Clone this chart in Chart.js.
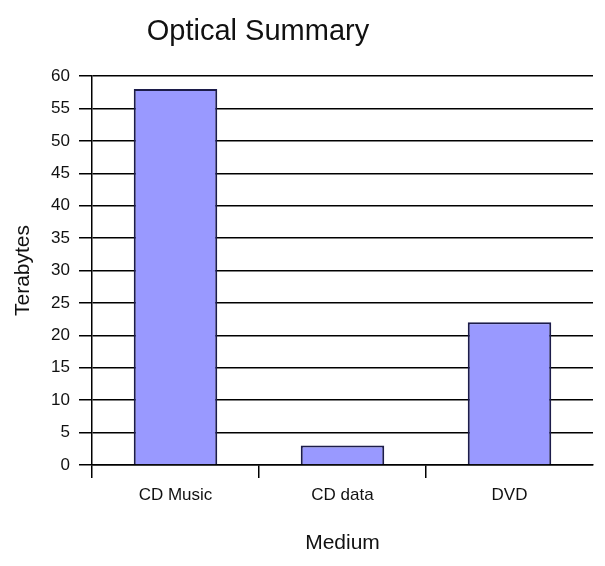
<!DOCTYPE html>
<html>
<head>
<meta charset="utf-8">
<script src="https://cdn.jsdelivr.net/npm/chart.js@4"></script>
<style>
  html, body { margin: 0; padding: 0; background: #fff; }
  #wrap { width: 605px; height: 566px; }
</style>
</head>
<body>
<div id="wrap"><canvas id="chart" width="605" height="566"></canvas></div>
<script>
const categories = ["CD Music", "CD data", "DVD"];
const terabytes = [58, 3, 22];
const chartTitle = "Optical Summary";
const yTitle = "Terabytes";
const xTitle = "Medium";

const FONT = "'Liberation Sans', Arial, sans-serif";

// title sits left of centre in the original, so draw it ourselves
const titlePlugin = {
  id: "leftTitle",
  afterDraw(chart) {
    const ctx = chart.ctx;
    ctx.save();
    ctx.font = "29px " + FONT;
    ctx.fillStyle = "#111";
    ctx.textAlign = "center";
    ctx.textBaseline = "middle";
    ctx.fillText(chartTitle, 258, 32);
    ctx.restore();
  }
};

new Chart(document.getElementById("chart"), {
  type: "bar",
  plugins: [titlePlugin],
  data: {
    labels: categories,
    datasets: [
      {
        data: terabytes,
        backgroundColor: "#9999ff",
        borderColor: "#1c1c4a",
        borderWidth: 2,
        barPercentage: 0.5,
        categoryPercentage: 1
      }
    ]
  },
  options: {
    responsive: false,
    animation: false,
    layout: { padding: { top: 76, right: 12, bottom: 0, left: 0 } },
    plugins: {
      legend: { display: false },
      tooltip: { enabled: false }
    },
    scales: {
      x: {
        offset: true,
        afterFit: s => { s.height = 101; },
        grid: {
          offset: true,
          drawOnChartArea: false,
          tickLength: 13,
          lineWidth: 1.5,
          tickColor: c => (c.type === "tick" ? "#000" : "rgba(0,0,0,0)")
        },
        border: { color: "#000", width: 1.5 },
        ticks: { color: "#111", padding: 7, font: { family: FONT, size: 17 } },
        title: {
          display: true,
          text: xTitle,
          color: "#111",
          font: { family: FONT, size: 21 },
          padding: { top: 0, bottom: 10 }
        }
      },
      y: {
        min: 0,
        max: 60,
        afterFit: s => { s.width = 92; },
        grid: { color: "#000", lineWidth: 1.5, tickLength: 13 },
        border: { color: "#000", width: 1.5 },
        ticks: { stepSize: 5, color: "#111", padding: 9, font: { family: FONT, size: 17 } },
        title: {
          display: true,
          text: yTitle,
          color: "#111",
          font: { family: FONT, size: 21 },
          padding: { top: 11, bottom: 0 }
        }
      }
    }
  }
});
</script>
</body>
</html>
